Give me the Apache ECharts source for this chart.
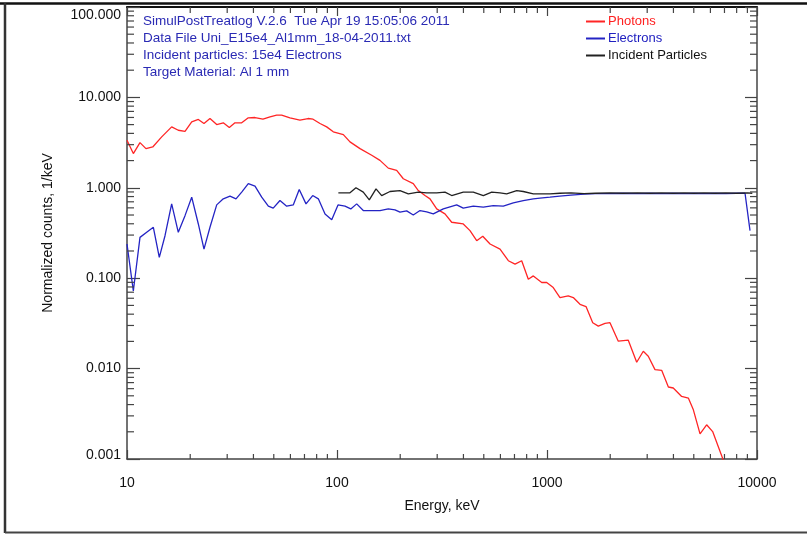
<!DOCTYPE html>
<html>
<head>
<meta charset="utf-8">
<script src="https://cdn.jsdelivr.net/npm/echarts@6/dist/echarts.min.js"></script>
<style>
html,body{margin:0;padding:0;background:#fff;}
#chart{width:807px;height:534px;}
</style>
</head>
<body>
<div id="chart"></div>
<script>
// ---- data ----
const photonEnergy = [10.0,10.72,11.53,12.31,13.26,14.63,16.32,17.55,18.89,20.33,21.86,23.26,24.84,26.74,28.74,30.70,32.67,35.17,37.81,40.7,44.4,47.97,51.6,54.5,59.7,66.6,72.8,76.9,83.0,89.3,96.0,107.2,115.3,128.7,146.3,160.2,175.5,192.4,206.9,230.8,243.9,262.4,277.3,298.4,326.7,351.7,399.3,429.8,462.6,494.4,535.5,597.4,654.4,704.4,757.7,814.6,860.8,943.9,996.7,1071,1153,1262,1334,1436,1534,1651,1755,1889,1995,2185,2438,2674,2874,3036,3268,3516,3784,3993,4377,4710,4977,5355,5756,6150,6912];
const photonCounts = [3.35,2.39,3.16,2.71,2.83,3.66,4.72,4.33,4.22,5.37,5.70,5.14,5.84,5.01,5.23,4.64,5.23,5.23,5.94,5.99,5.74,6.10,6.36,6.36,5.94,5.60,5.84,5.74,5.14,4.72,4.16,3.88,3.22,2.71,2.29,2.01,1.65,1.56,1.26,1.11,0.933,0.821,0.755,0.584,0.514,0.416,0.398,0.336,0.260,0.291,0.239,0.210,0.156,0.143,0.156,0.0975,0.106,0.0896,0.0896,0.0788,0.0611,0.0636,0.0611,0.0514,0.0485,0.0322,0.0295,0.0316,0.0322,0.0201,0.0206,0.01175,0.01557,0.0137,0.00975,0.00958,0.00626,0.0061,0.00492,0.00472,0.0035,0.0019,0.00239,0.00201,0.00097];

const electronEnergy = [10.0,10.72,11.53,12.41,13.35,14.25,15.17,16.32,17.55,18.89,20.33,21.86,23.26,24.84,26.74,28.74,30.94,33.04,35.17,37.81,40.7,43.8,47.1,49.7,53.5,57.6,61.9,66.1,71.2,76.6,81.5,87.7,94.4,101.1,109.2,116.3,124.1,133.4,145.2,160.2,175.5,188.9,199.5,214.7,230.8,248.5,267.4,287.4,320.8,345.2,371.5,399.3,445.7,497.5,554.9,619.2,691,771,860.8,926,1033,1150,1300,1500,1700,2000,2300,2700,3100,3500,4000,4500,5000,5600,6300,7100,8000,8770,9263];
const electronCounts = [0.239,0.0722,0.283,0.322,0.366,0.170,0.295,0.664,0.322,0.492,0.788,0.398,0.210,0.366,0.647,0.755,0.809,0.755,0.896,1.11,1.045,0.788,0.626,0.595,0.723,0.626,0.647,0.957,0.664,0.821,0.755,0.514,0.444,0.647,0.626,0.584,0.664,0.560,0.560,0.560,0.584,0.570,0.537,0.555,0.501,0.560,0.541,0.514,0.584,0.615,0.647,0.595,0.626,0.610,0.636,0.626,0.681,0.723,0.755,0.768,0.788,0.81,0.83,0.85,0.86,0.86,0.87,0.86,0.87,0.86,0.87,0.86,0.87,0.86,0.87,0.86,0.87,0.87,0.336];

const incidentEnergy = [101.5,108,115.3,123.1,133.4,142.5,153.4,163.2,178.8,199.5,218.6,243.9,267.4,298.4,326.7,351.7,399.3,445.7,497.5,545.5,597.4,642.7,717.4,771,860.8,1033,1150,1300,1500,1700,2000,2300,2700,3100,3500,4000,4500,5000,5600,6300,7100,8000,9000,9500];
const incidentCounts = [0.879,0.879,0.879,1.0,0.896,0.736,0.975,0.821,0.910,0.933,0.857,0.896,0.879,0.879,0.896,0.821,0.896,0.896,0.821,0.896,0.879,0.857,0.933,0.910,0.857,0.857,0.87,0.88,0.86,0.87,0.88,0.87,0.88,0.87,0.88,0.87,0.88,0.87,0.88,0.87,0.88,0.87,0.88,0.87];

const xTickLabels = ['10','100','1000','10000'];
const yTickLabels = ['0.001','0.010','0.100','1.000','10.000','100.000'];
const xDecades = [10,100,1000];
const yDecades = [0.001,0.01,0.1,1,10];
const minorMultipliers = [2,3,4,5,6,7,8,9];

const seriesNames = ['Photons','Electrons','Incident Particles'];
const infoLines = [
  'SimulPostTreatlog V.2.6  Tue Apr 19 15:05:06 2011',
  'Data File Uni_E15e4_Al1mm_18-04-2011.txt',
  'Incident particles: 15e4 Electrons',
  'Target Material: Al 1 mm'
];

// ---- build ----
const X_MIN = 10, X_MAX = 10000, Y_MIN = 0.001, Y_MAX = 100;
const FONT = '"Liberation Sans", Arial, Helvetica, sans-serif';
const AX = '#444';
const pairs = (xs, ys) => xs.map((x, i) => [x, ys[i]]);
const xMinor = [];
xDecades.forEach(d => minorMultipliers.forEach(m => xMinor.push([d * m, 1])));
const yMinor = [];
yDecades.forEach(d => yMinor.push(...minorMultipliers.map(m => [100, +(d * m).toPrecision(3)])));

const chart = echarts.init(document.getElementById('chart'), null, {renderer: 'canvas'});

function findLabel(list, v) {
  const e = Math.round(Math.log10(v));
  for (const s of list) { if (Math.round(Math.log10(parseFloat(s))) === e) return s; }
  return '';
}

const option = {
  backgroundColor: '#fff',
  animation: false,
  textStyle: {fontFamily: FONT},
  grid: {left: 127, right: 50, top: 7, bottom: 75, containLabel: false},
  legend: {
    orient: 'vertical', left: 581, top: 10, itemGap: 4,
    itemWidth: 19, itemHeight: 2,
    icon: 'rect',
    data: [
      {name: 'Photons', textStyle: {color: '#ff2020'}},
      {name: 'Electrons', textStyle: {color: '#2020c0'}},
      {name: 'Incident Particles', textStyle: {color: '#111'}}
    ],
    textStyle: {fontSize: 13, fontFamily: FONT, padding: [0, 0, 0, -2]}
  },
  xAxis: [{
    type: 'log', logBase: 10, min: X_MIN, max: X_MAX, position: 'bottom',
    name: 'Energy, keV', nameLocation: 'middle', nameGap: 40,
    nameTextStyle: {fontSize: 14, color: '#111', fontFamily: FONT},
    axisLine: {lineStyle: {color: AX, width: 1.5}},
    axisTick: {inside: true, length: 9, lineStyle: {color: AX, width: 1.2}},
    axisLabel: {formatter: v => findLabel(xTickLabels, v), fontSize: 14, color: '#111', margin: 17, fontFamily: FONT},
    splitLine: {show: false}, minorTick: {show: false}
  }, {
    type: 'log', logBase: 10, min: X_MIN, max: X_MAX, position: 'top',
    axisLine: {lineStyle: {color: '#111', width: 2}},
    axisTick: {inside: true, length: 9, lineStyle: {color: AX, width: 1.2}},
    axisLabel: {show: false}, splitLine: {show: false}
  }],
  yAxis: [{
    type: 'log', logBase: 10, min: Y_MIN, max: Y_MAX, position: 'left',
    name: 'Normalized counts, 1/keV', nameLocation: 'middle', nameGap: 72,
    nameTextStyle: {fontSize: 14, color: '#111', fontFamily: FONT},
    axisLine: {lineStyle: {color: AX, width: 1.5}},
    axisTick: {inside: true, length: 13, lineStyle: {color: AX, width: 1.2}},
    axisLabel: {
      formatter: function (v) {
        const s = findLabel(yTickLabels, v);
        if (s === yTickLabels[yTickLabels.length - 1]) return '{top|' + s + '}';
        if (s === yTickLabels[0]) return '{bot|' + s + '}';
        return s;
      },
      rich: {
        top: {fontSize: 14, color: '#111', fontFamily: FONT, padding: [16, 0, 0, 0]},
        bot: {fontSize: 14, color: '#111', fontFamily: FONT, padding: [0, 0, 8, 0]}
      },
      fontSize: 14, color: '#111', margin: 6, fontFamily: FONT
    },
    splitLine: {show: false}
  }, {
    type: 'log', logBase: 10, min: Y_MIN, max: Y_MAX, position: 'right',
    axisLine: {lineStyle: {color: AX, width: 1.5}},
    axisTick: {inside: true, length: 12, lineStyle: {color: AX, width: 1.2}},
    axisLabel: {show: false}, splitLine: {show: false}
  }],
  graphic: [
    {type: 'line', shape: {x1: 0, y1: 3.5, x2: 807, y2: 3.5}, style: {stroke: '#111', lineWidth: 2.5}, silent: true},
    {type: 'line', shape: {x1: 5, y1: 3, x2: 5, y2: 533}, style: {stroke: '#333', lineWidth: 2.5}, silent: true},
    {type: 'line', shape: {x1: 5, y1: 532.5, x2: 807, y2: 532.5}, style: {stroke: '#444', lineWidth: 2}, silent: true}
  ].concat(infoLines.map((t, i) => ({
    type: 'text', left: 143, top: 14 + i * 17, silent: true,
    style: {text: t, fill: '#2a2ab4', font: '13.5px ' + FONT}
  }))),
  series: [
    {name: 'Photons', type: 'line', xAxisIndex: 0, yAxisIndex: 0, data: pairs(photonEnergy, photonCounts),
     showSymbol: false, symbol: 'none', lineStyle: {color: '#ff2525', width: 1.3}, itemStyle: {color: '#ff2525'}, clip: true},
    {name: 'Electrons', type: 'line', xAxisIndex: 0, yAxisIndex: 0, data: pairs(electronEnergy, electronCounts),
     showSymbol: false, symbol: 'none', lineStyle: {color: '#2424c4', width: 1.3}, itemStyle: {color: '#2424c4'}, clip: true},
    {name: 'Incident Particles', type: 'line', xAxisIndex: 0, yAxisIndex: 0, data: pairs(incidentEnergy, incidentCounts),
     showSymbol: false, symbol: 'none', lineStyle: {color: '#222', width: 1.3}, itemStyle: {color: '#222'}, clip: true},
    {name: 'xMinorTicks', type: 'custom', xAxisIndex: 0, yAxisIndex: 0, silent: true, clip: false, z: 5,
     data: xMinor,
     renderItem: function (params, api) {
       const v = api.value(0);
       const b = api.coord([v, Y_MIN]);
       const t = api.coord([v, Y_MAX]);
       const st = {stroke: AX, lineWidth: 1.2};
       return {type: 'group', children: [
         {type: 'line', shape: {x1: b[0], y1: b[1], x2: b[0], y2: b[1] - 5}, style: st},
         {type: 'line', shape: {x1: t[0], y1: t[1], x2: t[0], y2: t[1] + 6}, style: st}
       ]};
     }},
    {name: 'yMinorTicks', type: 'custom', xAxisIndex: 0, yAxisIndex: 0, silent: true, clip: false, z: 5,
     data: yMinor,
     renderItem: function (params, api) {
       const v = api.value(1);
       const l = api.coord([X_MIN, v]);
       const r = api.coord([X_MAX, v]);
       const st = {stroke: AX, lineWidth: 1.2};
       return {type: 'group', children: [
         {type: 'line', shape: {x1: l[0], y1: l[1], x2: l[0] + 7, y2: l[1]}, style: st},
         {type: 'line', shape: {x1: r[0], y1: r[1], x2: r[0] - 7, y2: r[1]}, style: st}
       ]};
     }}
  ]
};
chart.setOption(option);
</script>
</body>
</html>
